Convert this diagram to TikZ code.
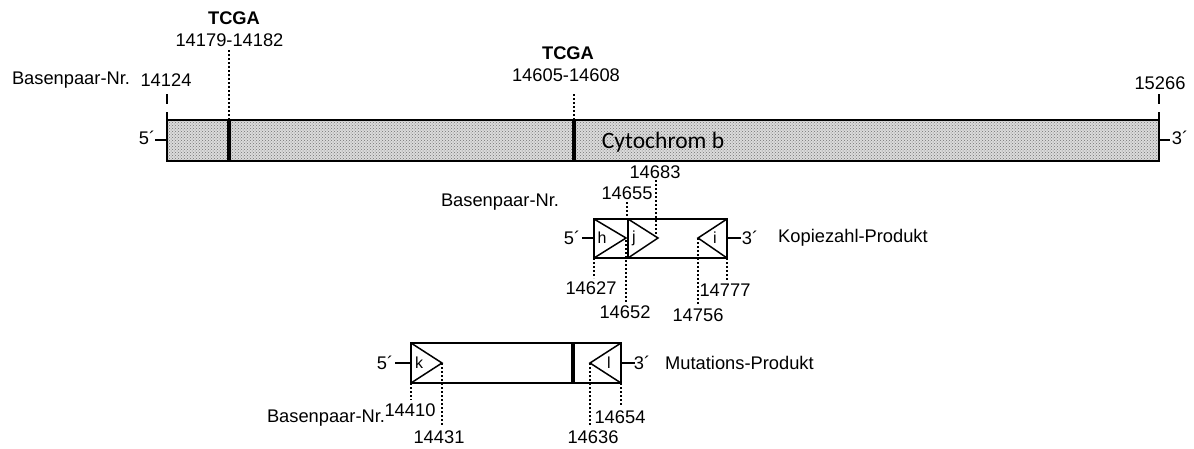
\documentclass[tikz,border=0pt]{standalone}
\usepackage{fontspec}
\setmainfont{Liberation Sans}
\newfontfamily\calib{Carlito}
\usetikzlibrary{patterns}
\begin{document}
\begin{tikzpicture}[x=1pt,y=-1pt,
  lbl/.style={inner sep=0pt,font=\fontsize{18.3}{20}\selectfont},
  small/.style={inner sep=0pt,font=\fontsize{16}{18}\selectfont},
  boxline/.style={line width=2.2pt},
  triline/.style={line width=1.5pt},
  sepline/.style={line width=3.2pt},
  dotline/.style={line width=2pt,dash pattern=on 2pt off 2pt},
  tickline/.style={line width=2.2pt,dash pattern=on 10pt off 8pt},
  endline/.style={line width=2.2pt}]
\useasboundingbox (0,0) rectangle (1194,448);
% ---------- main gene bar ----------
\coordinate (barTL) at (167,120);
\coordinate (barBR) at (1159,161);
\fill[gray!28] (barTL) rectangle (barBR);
\fill[pattern=crosshatch dots,pattern color=gray!90!black] (barTL) rectangle (barBR);
\draw[boxline] (barTL) rectangle (barBR);
\coordinate (s1t) at (229,120); \coordinate (s1b) at (229,161);
\coordinate (s2t) at (574,120); \coordinate (s2b) at (574,161);
\draw[sepline] (s1t) -- (s1b);
\draw[sepline] (s2t) -- (s2b);
\node[inner sep=0pt,font=\calib\fontsize{23.5}{25}\selectfont] (cyt) at (663,142) {Cytochrom b};
% ticks
\coordinate (tl) at (167,94); \coordinate (tr) at (1159,94); \coordinate (trb) at (1159,120);
\draw[tickline] (tl) -- (barTL);
\draw[tickline] (tr) -- (trb);
% ends
\node[lbl] (m5) at (147,138) {5´};
\node[lbl] (m3) at (1180,138) {3´};
\coordinate (m5a) at (155,140); \coordinate (m5b) at (167,140);
\coordinate (m3a) at (1159,140); \coordinate (m3b) at (1170,140);
\draw[endline] (m5a) -- (m5b);
\draw[endline] (m3a) -- (m3b);
% labels top
\node[lbl] (bp1) at (71,80) {Basenpaar-Nr.};
\node[lbl] (n14124) at (166,80) {14124};
\node[lbl] (n15266) at (1160,83) {15266};
\node[lbl,font=\fontsize{18.3}{20}\selectfont\bfseries] (tcga1) at (234,18) {TCGA};
\node[lbl] (r1) at (229.5,40) {14179-14182};
\node[lbl,font=\fontsize{18.3}{20}\selectfont\bfseries] (tcga2) at (568,53) {TCGA};
\node[lbl] (r2) at (566,75) {14605-14608};
\coordinate (d1) at (229,50); \coordinate (d2) at (574,94);
\draw[dotline] (d1) -- (s1t);
\draw[dotline] (d2) -- (s2t);
% ---------- Kopiezahl-Produkt ----------
\coordinate (kTL) at (594,219); \coordinate (kBR) at (727,258);
\coordinate (kBL) at (594,258); \coordinate (kTR) at (727,219);
\draw[boxline] (kTL) rectangle (kBR);
\coordinate (htip) at (626,238);
\coordinate (jT) at (628,219); \coordinate (jB) at (628,258); \coordinate (jtip) at (658,238);
\coordinate (itip) at (698,238);
\draw[triline] (kTL) -- (htip) -- (kBL);
\draw[triline] (jT) -- (jB);
\draw[triline] (jT) -- (jtip) -- (jB);
\draw[triline] (kTR) -- (itip) -- (kBR);
\node[small] (h) at (602,238) {h};
\node[small] (j) at (634,238) {j};
\node[small] (i) at (715,238) {i};
\node[lbl] (k5) at (572,238) {5´};
\node[lbl] (k3) at (750,238) {3´};
\coordinate (k5a) at (582,238); \coordinate (k5b) at (594,238);
\coordinate (k3a) at (727,238); \coordinate (k3b) at (741,238);
\draw[endline] (k5a) -- (k5b);
\draw[endline] (k3a) -- (k3b);
\node[lbl,anchor=west] (kp) at (778,238) {Kopiezahl-Produkt};
\node[lbl] (bp2) at (500,202) {Basenpaar-Nr.};
\node[lbl] (n14683) at (655,172) {14683};
\node[lbl] (n14655) at (627,193) {14655};
\node[lbl] (n14627) at (591,288) {14627};
\node[lbl] (n14652) at (625,312) {14652};
\node[lbl] (n14756) at (698,315) {14756};
\node[lbl] (n14777) at (725,290) {14777};
\coordinate (a1) at (627,202); \coordinate (a1b) at (627,219);
\coordinate (a2) at (656,180); \coordinate (a2b) at (656,236);
\coordinate (a3) at (594,278);
\coordinate (a4) at (626,240); \coordinate (a4b) at (626,302);
\coordinate (a5b) at (698,305);
\coordinate (a6) at (727,280);
\draw[dotline] (a1) -- (a1b);
\draw[dotline] (a2) -- (a2b);
\draw[dotline] (kBL) -- (a3);
\draw[dotline] (a4) -- (a4b);
\draw[dotline] (itip) -- (a5b);
\draw[dotline] (kBR) -- (a6);
% ---------- Mutations-Produkt ----------
\coordinate (mTL) at (411,343); \coordinate (mBR) at (621,383);
\coordinate (mBL) at (411,383); \coordinate (mTR) at (621,343);
\draw[boxline] (mTL) rectangle (mBR);
\coordinate (mst) at (573,343); \coordinate (msb) at (573,383);
\draw[sepline] (mst) -- (msb);
\coordinate (ktip) at (442,363); \coordinate (ltip) at (590,363);
\draw[triline] (mTL) -- (ktip) -- (mBL);
\draw[triline] (mTR) -- (ltip) -- (mBR);
\node[small] (k) at (419,363) {k};
\node[small] (l) at (609,363) {l};
\node[lbl] (mu5) at (385,363) {5´};
\node[lbl] (mu3) at (642,363) {3´};
\coordinate (mu5a) at (395,363); \coordinate (mu5b) at (411,363);
\coordinate (mu3a) at (621,363); \coordinate (mu3b) at (635,363);
\draw[endline] (mu5a) -- (mu5b);
\draw[endline] (mu3a) -- (mu3b);
\node[lbl,anchor=west] (mp) at (665,363) {Mutations-Produkt};
\node[lbl] (bp3) at (326,418) {Basenpaar-Nr.};
\node[lbl] (n14410) at (410,410) {14410};
\node[lbl] (n14431) at (439,437) {14431};
\node[lbl] (n14636) at (593,437) {14636};
\node[lbl] (n14654) at (620,417) {14654};
\coordinate (b1) at (411,400);
\coordinate (b2) at (442,425);
\coordinate (b3) at (590,425);
\coordinate (b4) at (621,405);
\draw[dotline] (mBL) -- (b1);
\draw[dotline] (ktip) -- (b2);
\draw[dotline] (ltip) -- (b3);
\draw[dotline] (mBR) -- (b4);
\end{tikzpicture}
\end{document}
